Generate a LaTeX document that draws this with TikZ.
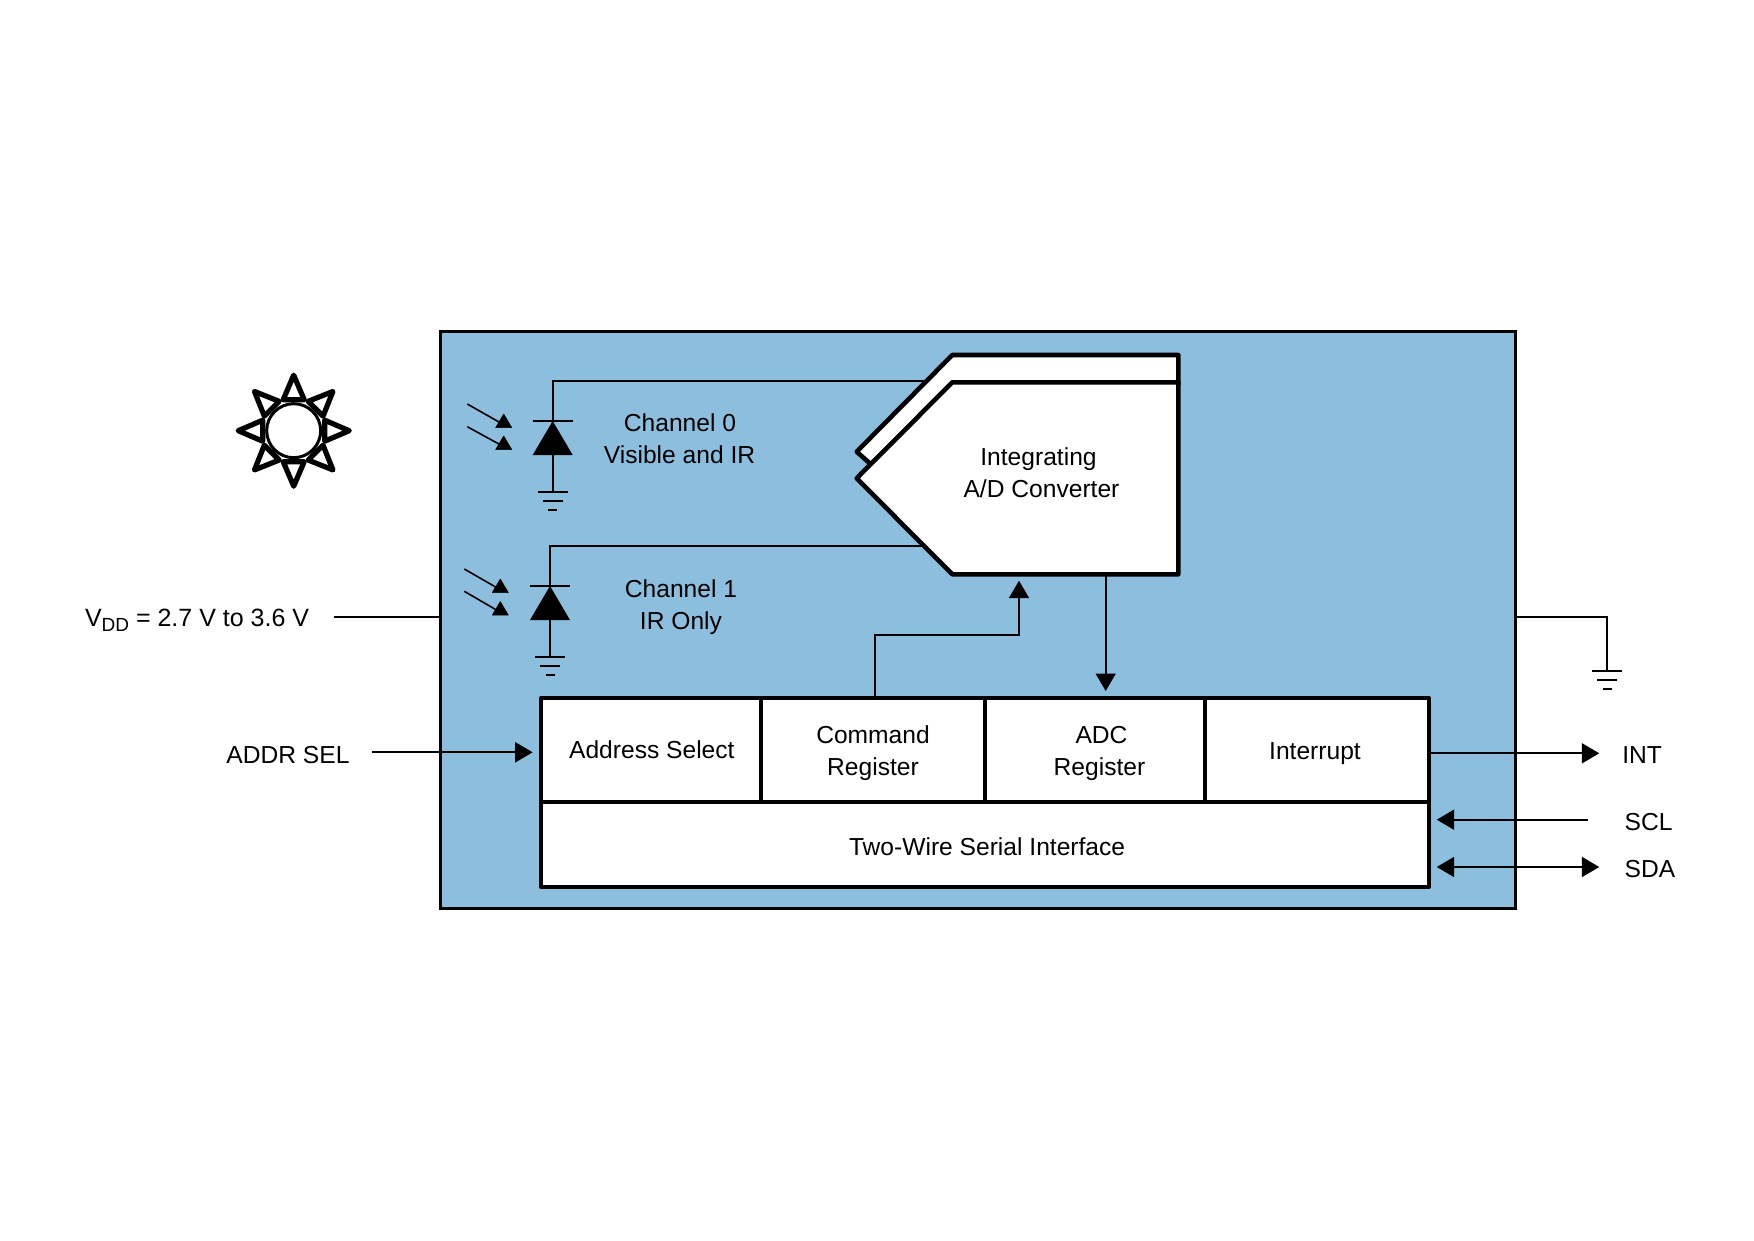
\documentclass[tikz,border=0pt]{standalone}
\usepackage{fontspec}
\setmainfont{Liberation Sans}
\usetikzlibrary{arrows.meta}
\definecolor{chipblue}{RGB}{141,190,221}
\tikzset{
  x=1pt,y=-1pt,
  every node/.style={inner sep=0pt,outer sep=0pt},
  label text/.style={font=\fontsize{24.6}{32}\selectfont,align=center,text=black},
  wire/.style={line width=1.9pt,draw=black},
  thin wire/.style={line width=1.6pt,draw=black},
  sig/.style={wire,-{Triangle[length=17.5pt,width=20pt]}},
  bisig/.style={wire,{Triangle[length=17.5pt,width=20pt]}-{Triangle[length=17.5pt,width=20pt]}},
  heavy/.style={line width=4.6pt,draw=black,fill=white,line join=round},
  cell/.style={line width=4.2pt,draw=black,fill=white,font=\fontsize{24.6}{32}\selectfont,align=center,line join=round},
  lighthead/.style={fill=black,draw=black,line width=.5pt,line join=round},
}
\newcommand{\gndsym}[2]{%
  \draw[thin wire] (#1-15,#2) -- (#1+15,#2);
  \draw[thin wire] (#1-10,#2+9) -- (#1+10,#2+9);
  \draw[thin wire] (#1-4.5,#2+18) -- (#1+4.5,#2+18);
}
\newcommand{\lightarrow}[4]{%
  \draw[thin wire] (#1,#2) -- (#3-3,#4+9);
  \fill[lighthead] (#3,#4) -- (#3-8,#4+13.5) -- (#3+8,#4+13.5) -- cycle;
}
\newcommand{\diodesym}[3]{%
  \draw[thin wire] (#1-20,#2) -- (#1+20,#2);
  \fill[black] (#1,#2) -- (#1-20,#2+34) -- (#1+20,#2+34) -- cycle;
  \draw[wire] (#1,#2+34) -- (#1,#3);
}
\begin{document}
\begin{tikzpicture}
\useasboundingbox (0,0) rectangle (1754,1241);
\fill[white] (0,0) rectangle (1754,1241);

% chip body
\node[draw=black,fill=chipblue,line width=3pt,minimum width=1075pt,minimum height=576pt,anchor=north west] (chip) at (440,332) {};

% sun
\begin{scope}[shift={(293.7,430.7)}]
  \foreach \a in {0,45,...,315}{
    \draw[line width=5.2pt,line join=round,fill=white,rotate=\a] (0,-55.5) -- (-10.5,-31) -- (10.5,-31) -- cycle;
  }
  \node[circle,draw=black,fill=white,line width=3pt,minimum size=54pt] (suncore) at (0,0) {};
\end{scope}

% named points
\coordinate (d0) at (552.7,421);
\coordinate (d0top) at (552.7,380.7);
\coordinate (d1) at (550,586);
\coordinate (d1top) at (550,546);
\coordinate (adcin0) at (930,380.7);
\coordinate (adcin1) at (930,546);
\coordinate (ctlbend) at (1019,634.7);
\coordinate (ctltip) at (1019,580.7);
\coordinate (adcout) at (1105.7,574.3);
\coordinate (adctip) at (1105.7,691);
\coordinate (vddend) at (334,617.3);
\coordinate (vddchip) at (440,617.3);
\coordinate (gndchip) at (1515,617.3);
\coordinate (gndbend) at (1607.3,617.3);
\coordinate (gndend) at (1607.3,671);
\coordinate (addrstart) at (371.7,752.3);
\coordinate (addrtip) at (532.7,752.3);
\coordinate (intstart) at (1429,753.3);
\coordinate (inttip) at (1599.3,753.3);
\coordinate (sclstart) at (1588,819.7);
\coordinate (scltip) at (1436.7,819.7);
\coordinate (sdaleft) at (1436.7,867);
\coordinate (sdaright) at (1599.3,867);

% photodiodes
\draw[wire] (d0) -- (d0top) -- (adcin0);
\draw[wire] (d1) -- (d1top) -- (adcin1);
\diodesym{552.7}{421}{491.7}
\gndsym{552.7}{491.7}
\diodesym{550}{586}{656.7}
\gndsym{550}{656.7}
\lightarrow{467.3}{404}{503.7}{414}
\lightarrow{467.3}{426.7}{503.7}{436}
\lightarrow{464.3}{569}{500.3}{579}
\lightarrow{464.3}{591.3}{500.3}{601.5}

% ADC
\draw[heavy] (856.7,451.7) -- (952.3,355) -- (1178.3,355) -- (1178.3,385) -- (900,465) -- (871.7,465) -- cycle;
\draw[heavy] (856.7,478.3) -- (952.3,382.3) -- (1178.3,382.3) -- (1178.3,574.3) -- (952.3,574.3) -- cycle;
\node[label text] (adclabel) at (1041.5,473) {Integrating\kern6pt\\A/D Converter};

% register block
\node[cell,minimum width=220.3pt,minimum height=104pt] (addrsel) at (650.85,750.3) {\kern2pt\rule[-2pt]{0pt}{1pt}Address Select};
\node[cell,minimum width=224pt,minimum height=104pt] (cmdreg) at (873,750.3) {\rule{0pt}{24pt}Command\\Register};
\node[cell,minimum width=220pt,minimum height=104pt] (adcreg) at (1095,750.3) {\rule{0pt}{24pt}\kern13pt ADC\\\kern9pt Register};
\node[cell,minimum width=224pt,minimum height=104pt] (intreg) at (1317,750.3) {\rule{0pt}{23pt}Interrupt\kern4pt};
\node[cell,minimum width=888.3pt,minimum height=84.4pt] (twowire) at (984.85,844.5) {\rule{0pt}{22pt}\kern4.5pt Two-Wire Serial Interface};

% connectors
\draw[sig] (cmdreg.north -| 875,0) -- (875,634.7) -- (ctlbend) -- (ctltip);
\draw[sig] (adcout) -- (adctip);
\draw[wire] (vddend) -- (vddchip);
\draw[wire] (gndchip) -- (gndbend) -- (gndend);
\gndsym{1607.3}{671}
\draw[sig] (addrstart) -- (addrtip);
\draw[sig] (intstart) -- (inttip);
\draw[sig] (sclstart) -- (scltip);
\draw[bisig] (sdaleft) -- (sdaright);

% labels
\node[label text] (ch0) at (679.5,439) {\kern1pt Channel 0\\Visible and IR};
\node[label text] (ch1) at (681,607.5) {Channel 1\\IR Only};
\node[label text,anchor=base west,font=\fontsize{25}{32}\selectfont] (vdd) at (85,626.5) {V\raisebox{-5pt}{\fontsize{19}{19}\selectfont DD} = 2.7 V to 3.6 V};
\node[label text] (addr) at (288,755.5) {ADDR SEL};
\node[label text,anchor=west] (int) at (1622.3,755.5) {INT};
\node[label text,anchor=west] (scl) at (1624.7,821.7) {SCL};
\node[label text,anchor=west] (sda) at (1624.7,869) {SDA};
\end{tikzpicture}
\end{document}
